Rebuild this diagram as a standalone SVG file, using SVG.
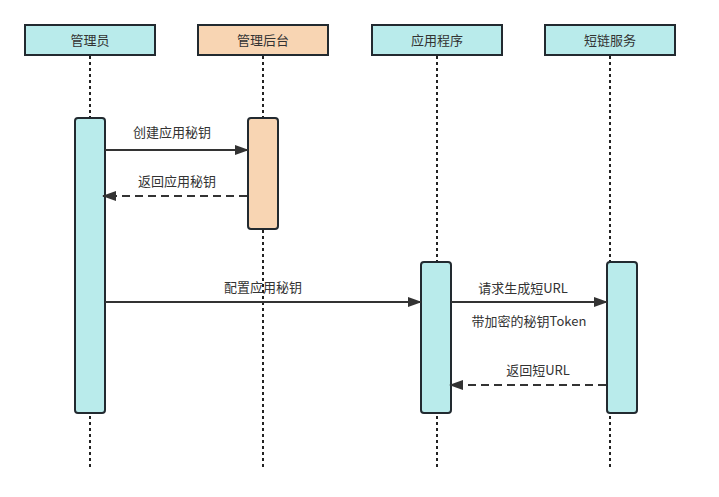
<svg xmlns="http://www.w3.org/2000/svg" width="719" height="497" viewBox="0 0 719 497">
<style>
text{font-family:"Noto Sans CJK SC","Liberation Sans",sans-serif;font-size:13px;fill:#333;text-anchor:middle}
.life{stroke:#222;stroke-width:2;stroke-dasharray:3 3;fill:none}
.hd{stroke:#222a30;stroke-width:2}
.act{stroke:#222a30;stroke-width:2}
.cy{fill:#b9ebeb}
.or{fill:#f8d5b3}
.msg{stroke:#333;stroke-width:2;fill:none}
.ret{stroke:#333;stroke-width:2;fill:none;stroke-dasharray:8 5}
</style>
<defs>
<marker id="ah" markerWidth="14" markerHeight="10" refX="13" refY="5" orient="auto" markerUnits="userSpaceOnUse">
<path d="M0,0 L14,5 L0,10 Z" fill="#333"/>
</marker>
</defs>
<rect width="719" height="497" fill="#fff"/>
<g id="lifelines">
<line class="life" x1="90" y1="56" x2="90" y2="470"/>
<line class="life" x1="263" y1="56" x2="263" y2="470"/>
<line class="life" x1="437" y1="56" x2="437" y2="470"/>
<line class="life" x1="610" y1="56" x2="610" y2="470"/>
</g>
<g id="admin">
<rect class="hd cy" x="25" y="25" width="130" height="30"/>
<text x="90" y="45">管理员</text>
<rect class="act cy" x="75" y="118" width="30" height="295" rx="3"/>
</g>
<g id="backend">
<rect class="hd or" x="198" y="25" width="130" height="30"/>
<text x="263" y="45">管理后台</text>
<rect class="act or" x="248" y="118" width="30" height="111" rx="3"/>
</g>
<g id="app">
<rect class="hd cy" x="372" y="25" width="130" height="30"/>
<text x="437" y="45">应用程序</text>
<rect class="act cy" x="421" y="262" width="30" height="151" rx="3"/>
</g>
<g id="shortlink">
<rect class="hd cy" x="545" y="25" width="130" height="30"/>
<text x="610" y="45">短链服务</text>
<rect class="act cy" x="607" y="262" width="30" height="151" rx="3"/>
</g>
<g id="connectors">
<line class="msg" x1="105" y1="150" x2="248" y2="150" marker-end="url(#ah)"/>
<text x="172" y="137">创建应用秘钥</text>
<line class="ret" x1="247" y1="196" x2="103" y2="196" marker-end="url(#ah)"/>
<text x="177" y="186">返回应用秘钥</text>
<line class="msg" x1="105" y1="302" x2="421" y2="302" marker-end="url(#ah)"/>
<text x="263" y="292">配置应用秘钥</text>
<line class="msg" x1="451" y1="302" x2="607" y2="302" marker-end="url(#ah)"/>
<text x="523" y="293">请求生成短URL</text>
<text x="529" y="326">带加密的秘钥Token</text>
<line class="ret" x1="606" y1="385" x2="450" y2="385" marker-end="url(#ah)"/>
<text x="538" y="375">返回短URL</text>
</g>
</svg>
